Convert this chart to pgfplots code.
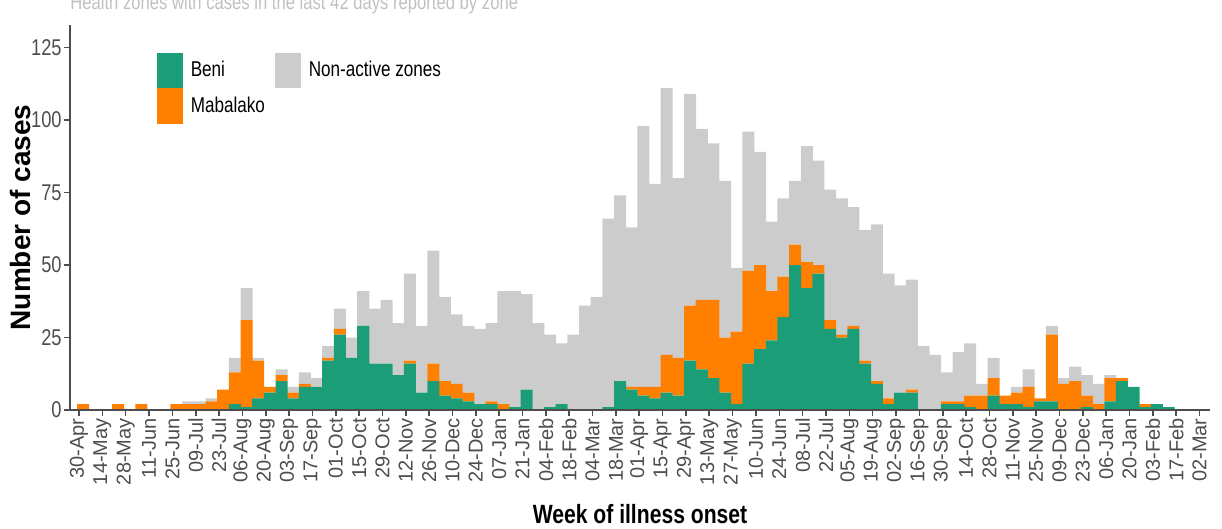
\documentclass[border=0pt]{standalone}
\usepackage{fontspec}
\setmainfont{Liberation Sans}[FakeStretch=0.8]
\newfontfamily\rotfont{Liberation Sans}
\usepackage{pgfplots}
\usepackage{pgfplotstable}
\pgfplotsset{compat=1.18}
\definecolor{beni}{HTML}{1B9E77}
\definecolor{mab}{HTML}{FF7F00}
\definecolor{nonact}{HTML}{CCCCCC}
\definecolor{axgray}{HTML}{4D4D4D}
\definecolor{titlegray}{HTML}{C0C0C0}

\pgfplotstableread{
k beni mab non
0 0 2 0
1 0 0 0
2 0 0 0
3 0 2 0
4 0 0 0
5 0 2 0
6 0 0 0
7 0 0 0
8 0 2 0
9 0 2 1
10 0 2 1
11 0 3 1
12 0 7 0
13 2 11 5
14 1 30 11
15 4 13 1
16 6 2 0
17 10 2 2
18 4 2 2
19 8 1 4
20 8 0 3
21 17 1 4
22 26 2 7
23 18 0 7
24 29 0 12
25 16 0 19
26 16 0 22
27 12 0 18
28 16 1 30
29 6 0 23
30 10 6 39
31 5 5 29
32 4 5 24
33 3 3 23
34 2 0 26
35 2 1 27
36 0 2 39
37 1 0 40
38 7 0 33
39 0 0 30
40 1 0 25
41 2 0 21
42 0 0 26
43 0 0 36
44 0 0 39
45 1 0 65
46 10 0 64
47 7 1 55
48 5 3 90
49 4 4 70
50 6 13 92
51 5 13 62
52 17 19 73
53 14 24 59
54 11 27 54
55 6 19 54
56 2 25 22
57 16 32 48
58 21 29 39
59 24 17 24
60 32 14 27
61 50 7 22
62 42 9 40
63 47 3 36
64 28 3 45
65 25 1 47
66 28 1 41
67 16 1 45
68 9 1 54
69 2 2 43
70 6 0 37
71 6 1 38
72 0 0 22
73 0 0 19
74 2 1 10
75 2 1 17
76 1 4 18
77 0 5 4
78 5 6 7
79 2 3 0
80 2 4 2
81 1 7 6
82 3 1 0
83 3 23 3
84 0 9 2
85 0 10 5
86 1 4 7
87 0 2 7
88 3 8 1
89 10 1 0
90 8 0 0
91 1 1 0
92 2 0 0
93 1 0 0
}\datatable

\begin{document}
\begin{tikzpicture}
\begin{axis}[
  at={(35pt,59.5pt)}, anchor=south west,
  scale only axis, width=570pt, height=192.5pt,
  xmin=-0.77, xmax=96.9, ymin=0, ymax=132.8,
  ybar stacked, bar width=1.03,
  axis on top,
  axis lines*=left,
  axis line style={axgray, line width=0.9pt, -},
  tick style={axgray, line width=0.8pt},
  tick align=outside, major tick length=3pt,
  xtick={0,2,...,96},
  xticklabels={30-Apr,14-May,28-May,11-Jun,25-Jun,09-Jul,23-Jul,06-Aug,20-Aug,03-Sep,17-Sep,01-Oct,15-Oct,29-Oct,12-Nov,26-Nov,10-Dec,24-Dec,07-Jan,21-Jan,04-Feb,18-Feb,04-Mar,18-Mar,01-Apr,15-Apr,29-Apr,13-May,27-May,10-Jun,24-Jun,08-Jul,22-Jul,05-Aug,19-Aug,02-Sep,16-Sep,30-Sep,14-Oct,28-Oct,11-Nov,25-Nov,09-Dec,23-Dec,06-Jan,20-Jan,03-Feb,17-Feb,02-Mar},
  ytick={0,25,...,125},
  /pgf/number format/assume math mode=true,
  xticklabel style={font=\rotfont\fontsize{10}{12}\selectfont, text=axgray, rotate=90, anchor=east, inner sep=1pt},
  yticklabel style={font=\fontsize{11.4}{13}\selectfont, text=axgray, inner sep=1pt},
  xlabel={Week of illness onset},
  ylabel={Number of cases},
  every axis x label/.style={at={(axis description cs:0.5,-0.296)}, anchor=base, font=\bfseries\fontsize{13.2}{15}\selectfont},
  every axis y label/.style={at={(axis description cs:-0.043,0.5)}, rotate=90, anchor=center, font=\rotfont\bfseries\fontsize{14}{16}\selectfont},
  legend columns=2,
  legend cell align=left,
  legend style={draw=none, fill=none, at={(axis description cs:0.0763,0.927)}, anchor=north west,
    inner sep=0pt, outer sep=0pt, row sep=0pt, nodes={inner sep=0pt},
    font=\fontsize{10.7}{13}\selectfont,
    /tikz/every odd column/.append style={column sep=4pt},
    /tikz/every even column/.append style={column sep=5pt}},
]
\addplot[fill=beni, draw=none, forget plot] table[x expr=\thisrow{k}+0.354, y=beni]{\datatable};
\addplot[fill=mab, draw=none, forget plot] table[x expr=\thisrow{k}+0.354, y=mab]{\datatable};
\addplot[fill=nonact, draw=none, forget plot] table[x expr=\thisrow{k}+0.354, y=non]{\datatable};
\addlegendimage{legend image code/.code={\fill[beni] (0pt,-8.6pt) rectangle (12.5pt,8.6pt);}}
\addlegendentry{Beni}
\addlegendimage{legend image code/.code={\fill[nonact] (0pt,-8.6pt) rectangle (12.5pt,8.6pt);}}
\addlegendentry{Non-active zones}
\addlegendimage{legend image code/.code={\fill[mab] (0pt,-8.6pt) rectangle (12.5pt,8.6pt);}}
\addlegendentry{Mabalako}
\end{axis}
\node[anchor=base west, inner sep=0pt, text=titlegray, font=\fontsize{10.4}{12}\selectfont] at (35pt,259.5pt) {Health zones with cases in the last 42 days reported by zone};
\pgfresetboundingbox
\path[use as bounding box] (0,0) rectangle (611pt,264.5pt);
\end{tikzpicture}
\end{document}
